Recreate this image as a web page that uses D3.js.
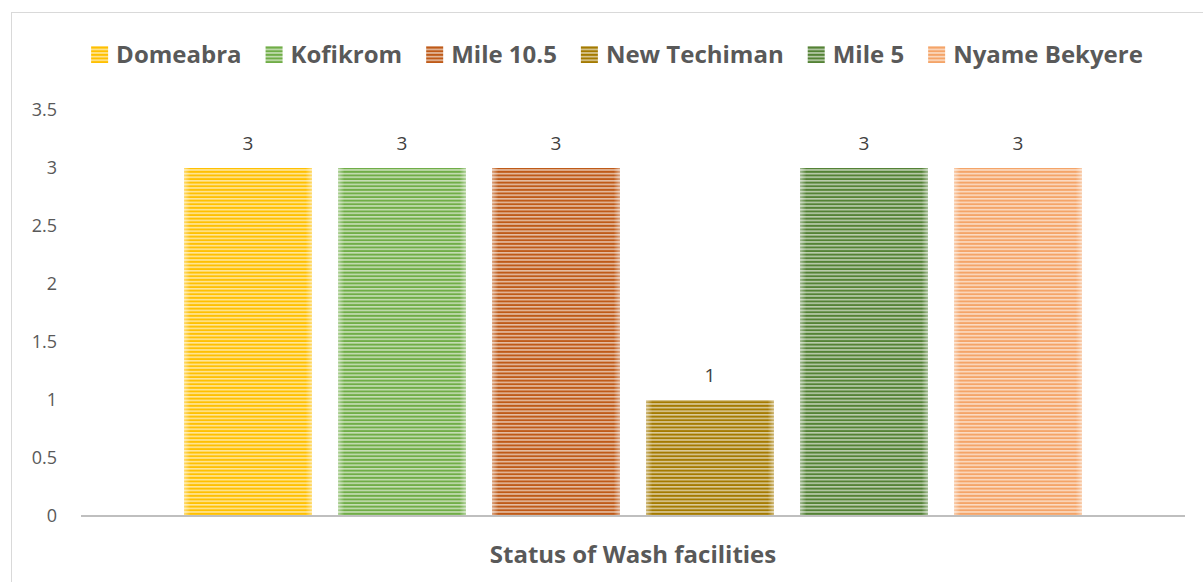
<!DOCTYPE html>
<html>
<head>
<meta charset="utf-8">
<script src="https://cdn.jsdelivr.net/npm/d3@7.9.0/dist/d3.min.js"></script>
<style>
  body { margin: 0; background: #fff; }
  svg { display: block; font-family: "Open Sans", sans-serif; }
</style>
</head>
<body>
<svg id="chart" width="1203" height="582"></svg>
<script>
// chart data
const category = 'Status of Wash facilities';
const series = ['Domeabra', 'Kofikrom', 'Mile 10.5', 'New Techiman', 'Mile 5', 'Nyame Bekyere'];
const values = [3, 3, 3, 1, 3, 3];
const colors = ['#FFC000', '#70AD47', '#BF5A18', '#A47A00', '#548235', '#F4A468'];
const yTicks = [0, 0.5, 1, 1.5, 2, 2.5, 3, 3.5];

const width = 1203;
const height = 582;
const plot = { left: 81, right: 1185, top: 110, bottom: 516 };

const svg = d3.select('#chart');
const defs = svg.append('defs');

// striped fills, one per series
colors.forEach((c, i) => {
  const light = d3.interpolateRgb(c, '#ffffff')(0.6);
  const p = defs.append('pattern')
    .attr('id', 'stripe' + i)
    .attr('patternUnits', 'userSpaceOnUse')
    .attr('width', 10)
    .attr('height', 3.6);
  p.append('rect').attr('width', 10).attr('height', 3.6).attr('fill', light);
  p.append('rect').attr('y', 1.6).attr('width', 10).attr('height', 2).attr('fill', c);
});

// soft white glow at left/right edges of the bars
const glow = defs.append('linearGradient').attr('id', 'edgeGlow');
[[0, 0.45], [0.05, 0], [0.95, 0], [1, 0.45]].forEach(([o, a]) => {
  glow.append('stop').attr('offset', o).attr('stop-color', '#fff').attr('stop-opacity', a);
});

// chart border
svg.append('rect')
  .attr('x', 11.5).attr('y', 12.5)
  .attr('width', 1200).attr('height', 600)
  .attr('fill', 'none')
  .attr('stroke', '#d9d9d9');

const x0 = d3.scaleBand()
  .domain([category])
  .range([plot.left, plot.right])
  .paddingOuter(0.1147);

const x = d3.scaleBand()
  .domain(series)
  .range([x0(category), x0(category) + x0.bandwidth()])
  .paddingInner(0.169)
  .paddingOuter(0);

const y = d3.scaleLinear()
  .domain([0, 3.5])
  .range([plot.bottom, plot.top]);

// y axis labels (no line, no ticks)
const yAxis = svg.append('g')
  .attr('transform', `translate(${plot.left - 24},0)`)
  .call(d3.axisLeft(y).tickValues(yTicks).tickSize(0).tickPadding(0)
    .tickFormat(d3.format('~g')));
yAxis.select('.domain').remove();
yAxis.selectAll('text')
  .attr('fill', '#595959')
  .style('font-size', '18px')
  .style('font-family', '"Open Sans", sans-serif');

// bars
const bars = svg.append('g');
series.forEach((s, i) => {
  bars.append('rect')
    .attr('x', x(s))
    .attr('y', y(values[i]))
    .attr('width', x.bandwidth())
    .attr('height', y(0) - y(values[i]))
    .attr('fill', `url(#stripe${i})`);
  bars.append('rect')
    .attr('x', x(s))
    .attr('y', y(values[i]))
    .attr('width', x.bandwidth())
    .attr('height', y(0) - y(values[i]))
    .attr('fill', 'url(#edgeGlow)');
  svg.append('text')
    .attr('x', x(s) + x.bandwidth() / 2)
    .attr('y', y(values[i]) - 18)
    .attr('text-anchor', 'middle')
    .attr('fill', '#404040')
    .style('font-size', '19px')
    .text(values[i]);
});

// x axis line
svg.append('line')
  .attr('x1', plot.left).attr('x2', plot.right)
  .attr('y1', y(0)).attr('y2', y(0))
  .attr('stroke', '#bfbfbf')
  .attr('stroke-width', 2);

// category label
svg.append('text')
  .attr('x', x0(category) + x0.bandwidth() / 2)
  .attr('y', 563)
  .attr('text-anchor', 'middle')
  .attr('fill', '#595959')
  .style('font-size', '24px')
  .style('font-weight', 'bold')
  .text(category);

// legend
const legend = svg.append('g');
let lx = 0;
series.forEach((s, i) => {
  const g = legend.append('g').attr('transform', `translate(${lx},0)`);
  g.append('rect')
    .attr('x', 0).attr('y', -17)
    .attr('width', 17).attr('height', 17)
    .attr('fill', `url(#stripe${i})`);
  const t = g.append('text')
    .attr('x', 25).attr('y', 0)
    .attr('fill', '#595959')
    .style('font-size', '24px')
    .style('font-weight', 'bold')
    .text(s);
  lx += 25 + t.node().getComputedTextLength() + 24;
});
const legendWidth = lx - 24;
legend.attr('transform', `translate(${(93 + 1141) / 2 - legendWidth / 2},63)`);
</script>
</body>
</html>
